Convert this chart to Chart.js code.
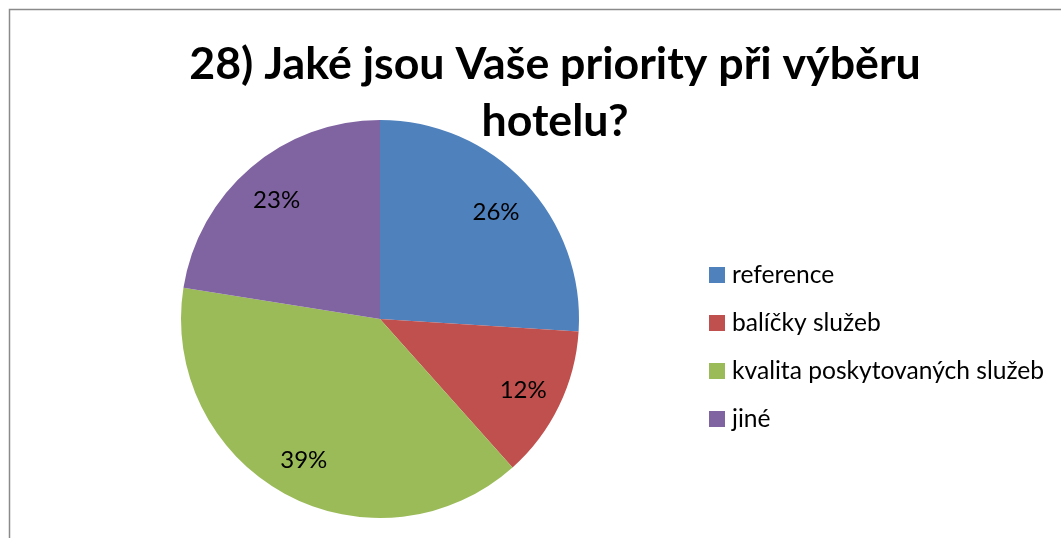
<!DOCTYPE html>
<html lang="cs">
<head>
<meta charset="utf-8">
<title>Priority při výběru hotelu</title>
<script src="https://cdn.jsdelivr.net/npm/chart.js@4.4.0/dist/chart.umd.min.js"></script>
<style>
  html, body { margin: 0; padding: 0; background: #fff; }
  #wrap { width: 1061px; height: 538px; }
</style>
</head>
<body>
<div id="wrap"><canvas id="pieChart" width="1061" height="538"></canvas></div>
<script>
// data (v %)
const titulek = ["28) Jaké jsou Vaše priority při výběru", "hotelu?"];
const kategorie = ["reference", "balíčky služeb", "kvalita poskytovaných služeb", "jiné"];
const podily = [26.0, 12.4, 39.1, 22.5];
const barvy = ["#4F81BD", "#C0504D", "#9BBB59", "#8064A2"];

const PISMO = "Lato, 'Open Sans', sans-serif";

// rámeček + bílé pozadí
const ramecek = {
  id: "ramecek",
  beforeDraw(chart) {
    const ctx = chart.ctx;
    ctx.save();
    ctx.fillStyle = "#fff";
    ctx.fillRect(0, 0, chart.width, chart.height);
    ctx.strokeStyle = "#8a8a8a";
    ctx.lineWidth = 1.5;
    ctx.strokeRect(9.5, 9.5, chart.width + 50, chart.height + 50);
    ctx.restore();
  }
};

// nadpis na dva řádky (Excel ho centruje přes celý rámeček)
const nadpis = {
  id: "nadpis",
  afterDraw(chart) {
    const ctx = chart.ctx;
    ctx.save();
    ctx.fillStyle = "#000";
    ctx.font = "bold 44.7px " + PISMO;
    ctx.textAlign = "center";
    ctx.textBaseline = "alphabetic";
    titulek.forEach((radek, i) => ctx.fillText(radek, 555, 79 + i * 57));
    ctx.restore();
  }
};

// procenta uvnitř výsečí
const popisky = {
  id: "popisky",
  afterDatasetsDraw(chart) {
    const ctx = chart.ctx;
    const data = chart.data.datasets[0].data;
    const soucet = data.reduce((s, v) => s + v, 0);
    ctx.save();
    ctx.fillStyle = "#000";
    ctx.font = "24px " + PISMO;
    ctx.textAlign = "center";
    ctx.textBaseline = "middle";
    chart.getDatasetMeta(0).data.forEach((arc, i) => {
      const p = arc.getProps(["x", "y", "startAngle", "endAngle", "outerRadius"], true);
      const uhel = (p.startAngle + p.endAngle) / 2;
      const r = p.outerRadius * 0.8;
      const txt = Math.round(data[i] / soucet * 100) + "%";
      ctx.fillText(txt, p.x + Math.cos(uhel) * r, p.y + Math.sin(uhel) * r + 2);
    });
    ctx.restore();
  }
};

// legenda vpravo
const legenda = {
  id: "legenda",
  afterDraw(chart) {
    const ctx = chart.ctx;
    ctx.save();
    ctx.font = "24.6px " + PISMO;
    ctx.textBaseline = "middle";
    kategorie.forEach((nazev, i) => {
      const y = 275 + i * 48;
      ctx.fillStyle = barvy[i];
      ctx.fillRect(709, y - 8, 16, 16);
      ctx.fillStyle = "#000";
      ctx.fillText(nazev, 732, y);
    });
    ctx.restore();
  }
};

new Chart(document.getElementById("pieChart"), {
  type: "pie",
  data: {
    labels: kategorie,
    datasets: [{ data: podily, backgroundColor: barvy, borderWidth: 0 }]
  },
  options: {
    responsive: false,
    animation: false,
    layout: { padding: { top: 120, bottom: 20, left: 181, right: 482 } },
    plugins: {
      legend: { display: false },
      title: { display: false },
      tooltip: { enabled: false }
    }
  },
  plugins: [ramecek, nadpis, popisky, legenda]
});
</script>
</body>
</html>
